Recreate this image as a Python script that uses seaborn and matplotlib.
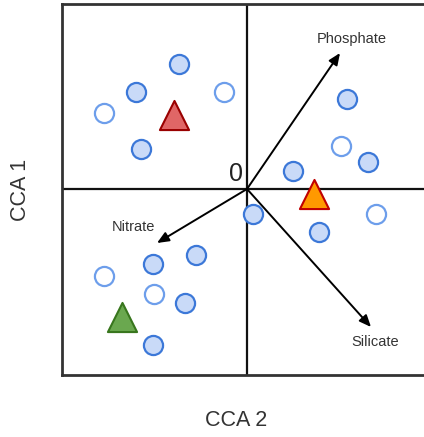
import numpy as np
import pandas as pd
import matplotlib
matplotlib.use("Agg")
import matplotlib.pyplot as plt
import seaborn as sns

# Site scores (CCA 2 on x, CCA 1 on y)
filled_x = [-0.68, -1.11, -1.06, 1.00, 1.21, 0.46, 0.06, -0.51, -0.94, -0.62, 0.72, -0.94]
filled_y = [1.25, 0.97, 0.40, 0.90, 0.27, 0.18, -0.25, -0.66, -0.75, -1.14, -0.43, -1.56]
open_x = [-0.23, -1.43, 0.94, 1.29, -1.43, -0.93]
open_y = [0.97, 0.76, 0.43, -0.25, -0.87, -1.05]

# Group centroids
centroid_x = [-0.73, 0.67, -1.25]
centroid_y = [0.74, -0.05, -1.28]
centroid_fill = ["#e06666", "#ff9900", "#6aa84f"]
centroid_edge = ["#990000", "#c00000", "#38761d"]

# Environmental vectors
env_names = ["Phosphate", "Nitrate", "Silicate"]
env_x = [0.93, -0.90, 1.24]
env_y = [1.36, -0.54, -1.38]
label_x = [1.05, -1.14, 1.28]
label_y = [1.50, -0.38, -1.53]

sns.set_style("white")
plt.rcParams["font.family"] = ["Liberation Sans", "DejaVu Sans"]

fig = plt.figure(figsize=(4.24, 4.37), dpi=100)
ax = fig.add_axes([62 / 424, 62 / 437, 370 / 424, 371 / 437])
ax.set_xlim(-1.85, 1.85)
ax.set_ylim(-1.86, 1.85)

for s in ax.spines.values():
    s.set_color("#333333")
    s.set_linewidth(2)

ax.axhline(0, color="#111111", lw=1.6, zorder=1)
ax.axvline(0, color="#111111", lw=1.6, zorder=1)

for nx, ny, lx, ly, name in zip(env_x, env_y, label_x, label_y, env_names):
    ax.annotate("", xy=(nx, ny), xytext=(0, 0),
                arrowprops=dict(arrowstyle="-|>,head_length=0.7,head_width=0.3",
                                color="black", lw=1.4, shrinkA=0, shrinkB=0),
                zorder=2)
    ax.text(lx, ly, name, fontsize=10.5, color="#333333", ha="center", va="center")

sites_filled = pd.DataFrame({"x": filled_x, "y": filled_y})
sites_open = pd.DataFrame({"x": open_x, "y": open_y})
sns.scatterplot(data=sites_filled, x="x", y="y", ax=ax, s=190, color="#c9daf8",
                edgecolor="#3c78d8", linewidth=1.6, zorder=3)
sns.scatterplot(data=sites_open, x="x", y="y", ax=ax, s=190, color="white",
                edgecolor="#6d9eeb", linewidth=1.6, zorder=3)

cents = pd.DataFrame({"x": centroid_x, "y": centroid_y})
for (_, r), fc, ec in zip(cents.iterrows(), centroid_fill, centroid_edge):
    sns.scatterplot(x=[r.x], y=[r.y], ax=ax, marker="^", s=440, color=fc,
                    edgecolor=ec, linewidth=1.5, zorder=4)

ax.text(-0.04, 0.03, "0", fontsize=18, color="#222222", ha="right", va="bottom")

ax.set_xticks([])
ax.set_yticks([])
ax.set_xlabel("")
ax.set_ylabel("")
fig.text(236 / 424, 1 - 420 / 437, "CCA 2", fontsize=15.5, color="#333333",
         ha="center", va="center")
fig.text(20 / 424, 1 - 190 / 437, "CCA 1", fontsize=15.5, color="#333333",
         ha="center", va="center", rotation=90)

fig.savefig("out.png", dpi=100)
